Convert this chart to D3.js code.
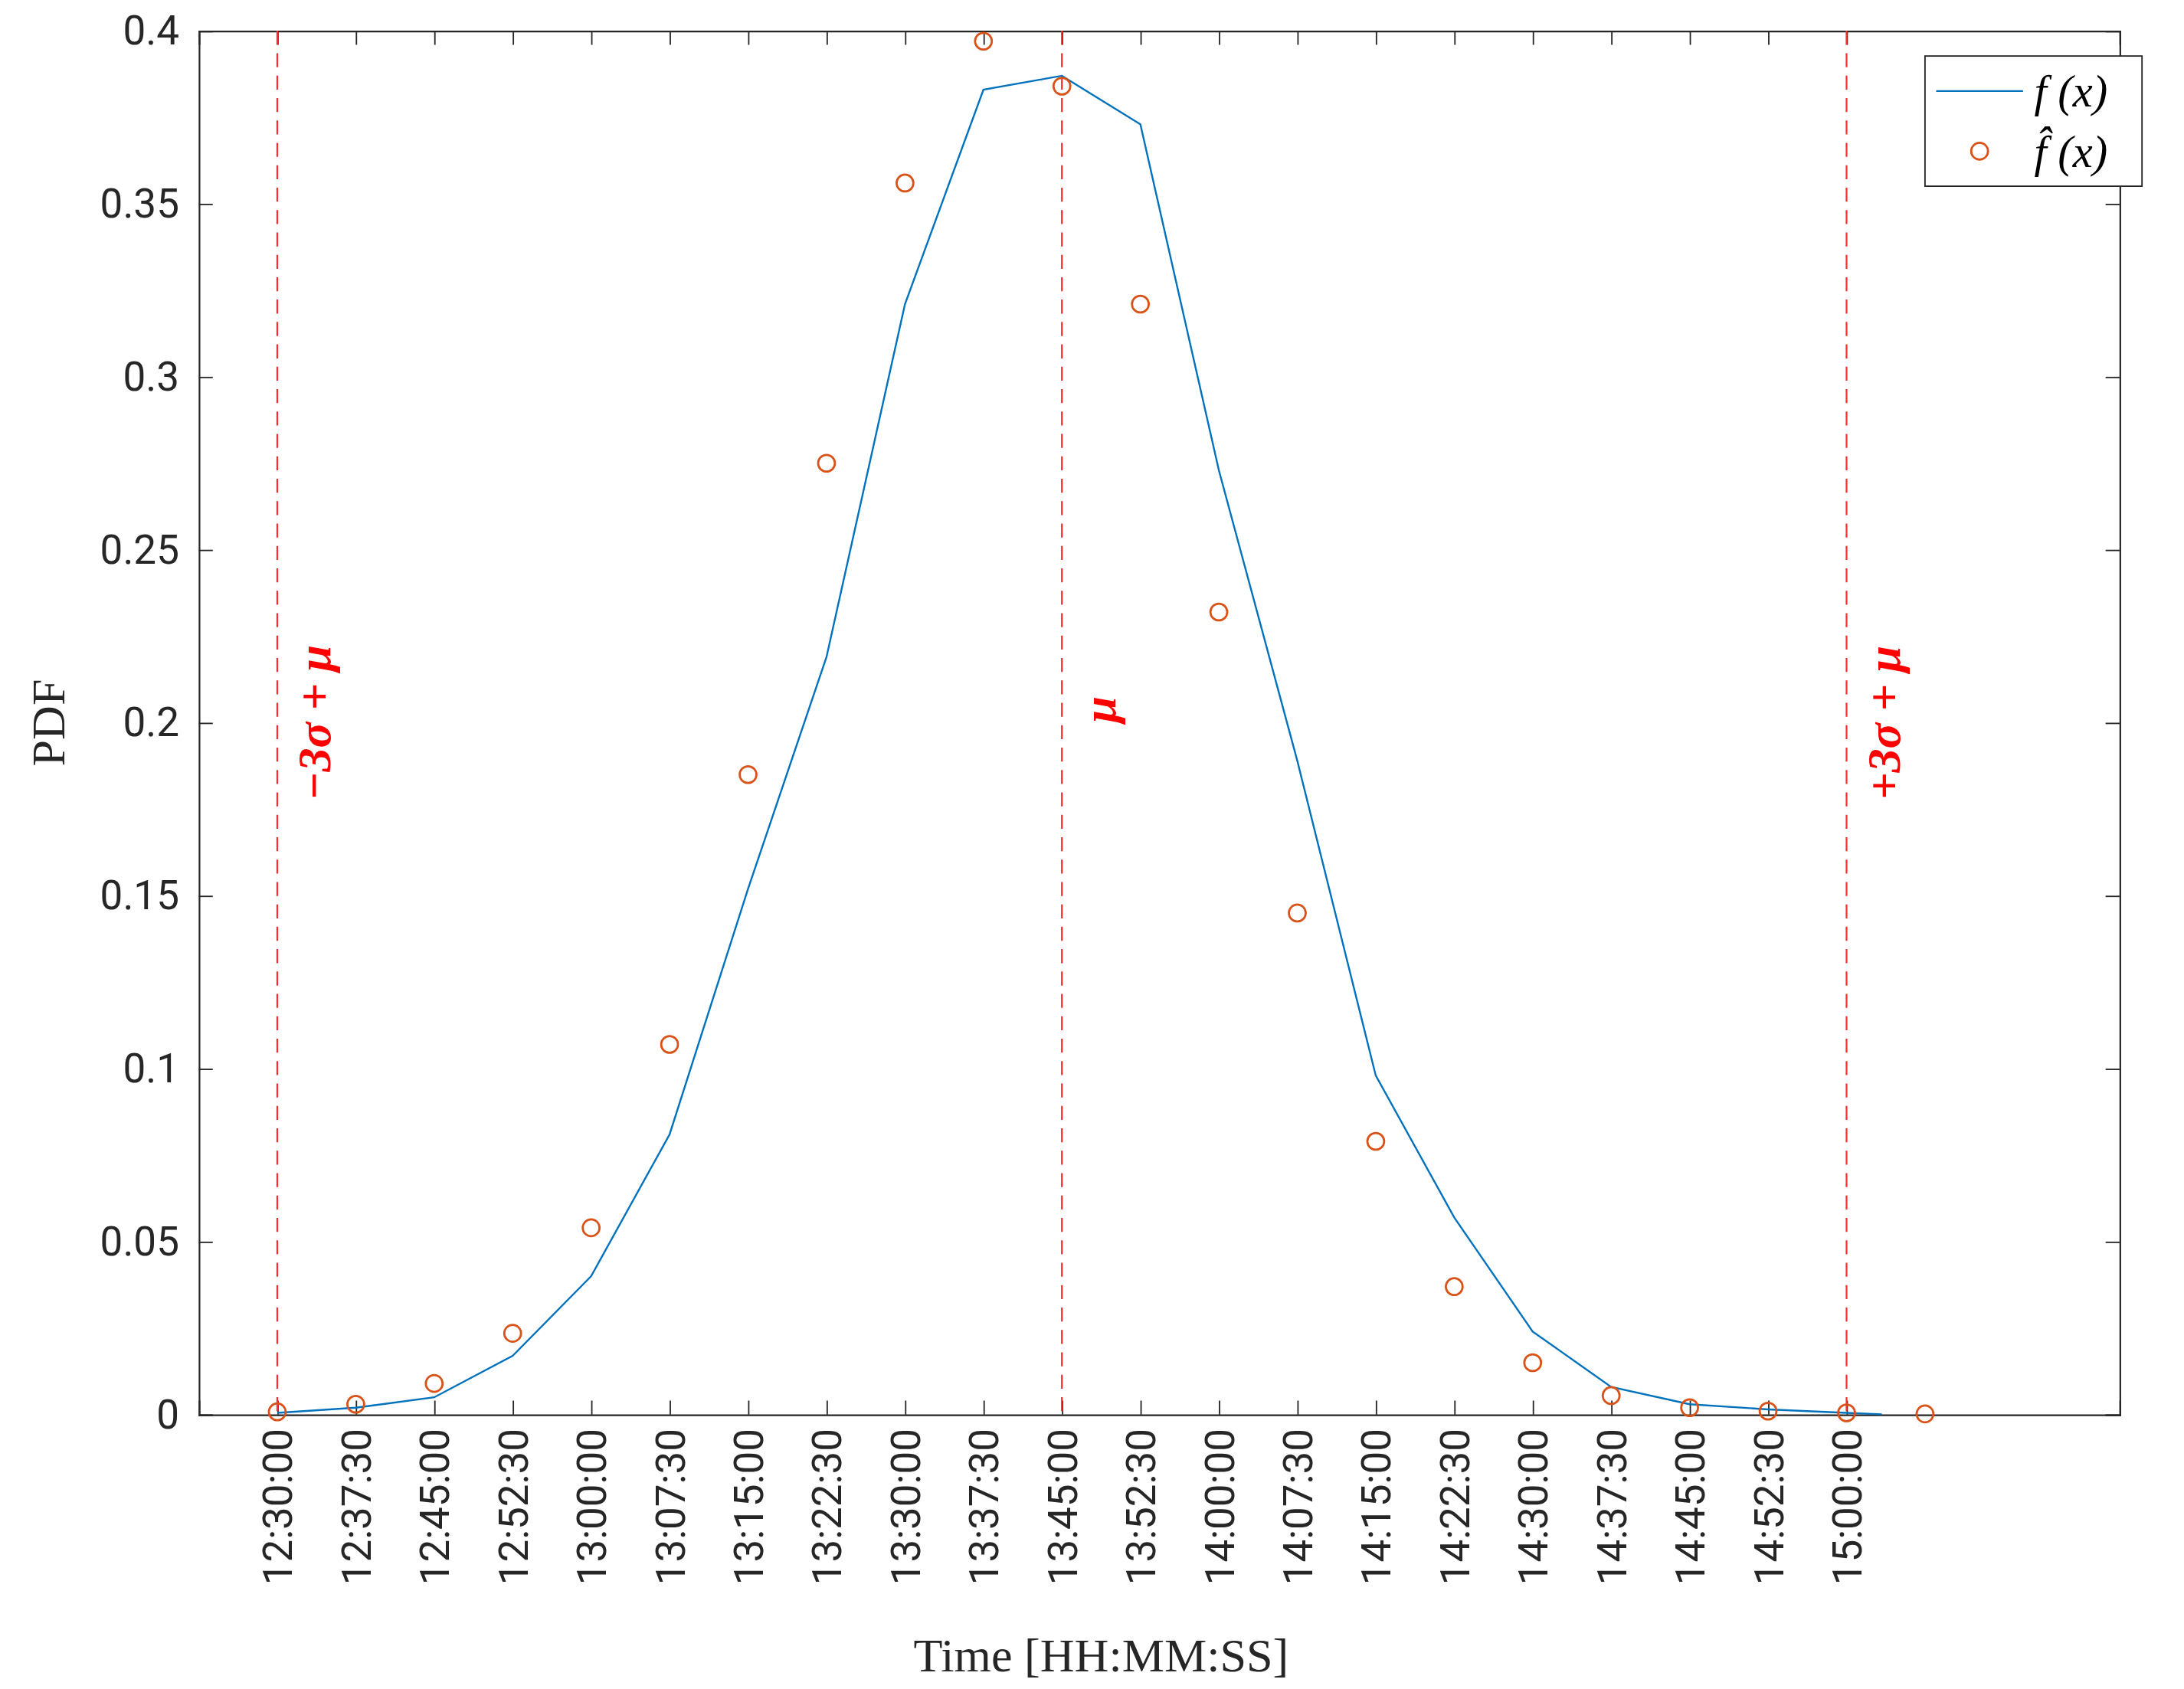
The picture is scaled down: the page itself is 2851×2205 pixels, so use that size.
<!DOCTYPE html>
<html><head><meta charset="utf-8">
<script src="https://cdn.jsdelivr.net/npm/d3@7"></script>
<style>body{margin:0;background:#fff}</style>
</head><body>
<svg id="chart"></svg>
<script>
// tick labels along x (index 0..20)
const timeLabels = ["12:30:00","12:37:30","12:45:00","12:52:30","13:00:00","13:07:30","13:15:00",
  "13:22:30","13:30:00","13:37:30","13:45:00","13:52:30","14:00:00","14:07:30","14:15:00",
  "14:22:30","14:30:00","14:37:30","14:45:00","14:52:30","15:00:00"];
// f(x) line
const lineIdx = [0,1,2,3,4,5,6,7,8,9,10,11,12,13,14,15,16,17,18,19,20,20.45];
const lineVal = [0.0005,0.002,0.005,0.017,0.040,0.081,0.152,0.219,0.321,0.383,0.387,0.373,
  0.273,0.189,0.098,0.057,0.024,0.008,0.003,0.0015,0.0005,0.0001];
// f-hat(x) circles
const circIdx = [0,1,2,3,4,5,6,7,8,9,10,11,12,13,14,15,16,17,18,19,20,21];
const circVal = [0.0008,0.003,0.009,0.0235,0.054,0.107,0.185,0.275,0.356,0.397,0.384,0.321,
  0.232,0.145,0.079,0.037,0.015,0.0055,0.002,0.001,0.0005,0.0002];
const yTicks = [0,0.05,0.1,0.15,0.2,0.25,0.3,0.35,0.4];
const markers = [{i:0, t:"−3σ + μ"},{i:10, t:"μ"},{i:20, t:"+3σ + μ"}];

const W = 1560, H = 1206.5;
const m = {left:142, right:46, top:22, bottom:196};
const svg = d3.select("#chart").attr("width",2851).attr("height",2205)
  .attr("viewBox",`0 0 ${W} ${H}`);
const pw = W - m.left - m.right, ph = H - m.top - m.bottom;
const g = svg.append("g").attr("transform",`translate(${m.left},${m.top})`);
const x = d3.scaleLinear().domain([-1, 23.48]).range([0,pw]);
const y = d3.scaleLinear().domain([0,0.4]).range([ph,0]);
const sans = "Roboto, 'Liberation Sans', Arial, sans-serif";
const serif = "'Liberation Serif', 'DejaVu Serif', serif";

// axes with inner ticks (MATLAB style)
g.append("g").attr("transform",`translate(0,${ph})`)
  .call(d3.axisBottom(x).tickValues(d3.range(21)).tickSize(-10)
    .tickFormat(i => timeLabels[i]))
  .selectAll("text").attr("transform","rotate(-90)").attr("text-anchor","end")
  .attr("x",-10).attr("y",0).attr("dy","0.35em");
g.append("g").call(d3.axisLeft(y).tickValues(yTicks).tickSize(-10).tickPadding(14)
  .tickFormat(d => d === 0 ? "0" : String(+d.toFixed(2))));
g.append("g").attr("transform",`translate(${pw},0)`)
  .call(d3.axisRight(y).tickValues(yTicks).tickSize(-10).tickFormat(""));
g.append("g").call(d3.axisTop(x).tickValues(d3.range(21)).tickSize(-10).tickFormat(""));
g.selectAll(".domain").attr("stroke","#262626").attr("stroke-width",1.2);
g.selectAll(".tick line").attr("stroke","#262626");
g.selectAll(".tick text").attr("font-family",sans).attr("font-size",29).attr("fill","#262626");

// sigma markers
markers.forEach(mk => {
  g.append("line").attr("x1",x(mk.i)).attr("x2",x(mk.i)).attr("y1",0).attr("y2",ph)
    .attr("stroke","#ff2a2a").attr("stroke-width",1.2).attr("stroke-dasharray","10,6");
  g.append("text").attr("transform",`translate(${x(mk.i)+38},${y(0.2)}) rotate(-90)`)
    .attr("text-anchor", mk.i === 10 ? "start" : "middle")
    .attr("font-family",serif).attr("font-style","italic").attr("font-weight","bold")
    .attr("font-size",34).attr("fill","red").text(mk.t);
});

// f(x)
g.append("path").datum(lineIdx.map((d,k)=>[d,lineVal[k]]))
  .attr("d", d3.line().x(d=>x(d[0])).y(d=>y(d[1])))
  .attr("fill","none").attr("stroke","#0072bd").attr("stroke-width",1.3);
// f-hat(x)
g.selectAll("circle.pt").data(circIdx.map((d,k)=>[d,circVal[k]])).enter()
  .append("circle").attr("cx",d=>x(d[0])).attr("cy",d=>y(d[1])).attr("r",6)
  .attr("fill","none").attr("stroke","#d95319").attr("stroke-width",1.5);

// axis labels
svg.append("text").attr("x",m.left+x(10.5)).attr("y",1194).attr("text-anchor","middle")
  .attr("font-family",serif).attr("font-size",34).attr("fill","#262626").text("Time [HH:MM:SS]");
svg.append("text").attr("transform",`translate(46,${m.top+ph/2}) rotate(-90)`)
  .attr("text-anchor","middle").attr("font-family",serif).attr("font-size",34)
  .attr("fill","#262626").text("PDF");

// legend
const lg = g.append("g").attr("transform",`translate(${1375-m.left},${40-m.top})`);
lg.append("rect").attr("width",155).attr("height",93).attr("fill","#fff")
  .attr("stroke","#262626").attr("stroke-width",1);
lg.append("line").attr("x1",8).attr("x2",70).attr("y1",25).attr("y2",25)
  .attr("stroke","#0072bd").attr("stroke-width",1.3);
lg.append("circle").attr("cx",39).attr("cy",68).attr("r",6).attr("fill","none")
  .attr("stroke","#d95319").attr("stroke-width",1.5);
[["f (x)",25],["f̂ (x)",68]].forEach(([t,yy]) => lg.append("text").attr("x",78).attr("y",yy)
  .attr("dy","0.35em").attr("font-family",serif).attr("font-style","italic")
  .attr("font-size",32).attr("fill","#000").text(t));
</script>
</body></html>
